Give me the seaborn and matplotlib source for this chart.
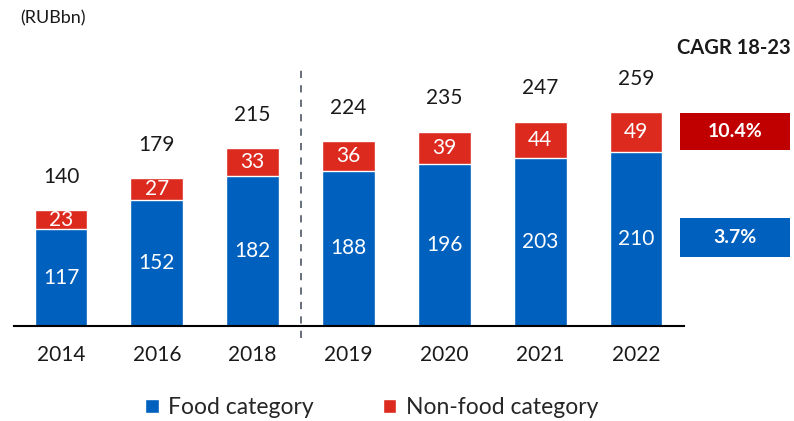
import matplotlib
matplotlib.use("Agg")
import matplotlib.pyplot as plt
import seaborn as sns
import pandas as pd
from matplotlib.patches import Rectangle

years = ["2014", "2016", "2018", "2019", "2020", "2021", "2022"]
food = [117, 152, 182, 188, 196, 203, 210]
nonfood = [23, 27, 33, 36, 39, 44, 49]
totals = [f + n for f, n in zip(food, nonfood)]
cagr_labels = ["10.4%", "3.7%"]
unit_label = "(RUBbn)"
cagr_title = "CAGR 18-23"
legend_labels = ["Food category", "Non-food category"]

BLUE = "#0060BE"
RED = "#DC2A1F"
DARKRED = "#C00000"

sns.set_theme(style="white")
plt.rcParams["font.family"] = ["Lato", "DejaVu Sans"]

df = pd.DataFrame({"year": years, "food": food, "nonfood": nonfood, "total": totals})

fig = plt.figure(figsize=(7.94, 4.21), dpi=100)
ax = fig.add_axes([14 / 794, 95 / 421, 670 / 794, 286 / 421])

sns.barplot(data=df, x="year", y="total", color=RED, width=0.55, saturation=1, ax=ax)
sns.barplot(data=df, x="year", y="food", color=BLUE, width=0.55, saturation=1, ax=ax)

ax.set_xlim(-0.49, 6.5)
ax.set_ylim(0, 346)
ax.set_xlabel("")
ax.set_ylabel("")
ax.set_yticks([])
for s in ["left", "right", "top"]:
    ax.spines[s].set_visible(False)
ax.spines["bottom"].set_color("black")
ax.spines["bottom"].set_linewidth(1.5)
ax.tick_params(axis="x", length=0, pad=14, labelsize=15, colors="#1a1a1a")

for i, (f, n, t) in enumerate(zip(food, nonfood, totals)):
    ax.text(i, f / 2, str(f), ha="center", va="center", color="white", fontsize=15)
    ax.text(i, f + n / 2, str(n), ha="center", va="center", color="white", fontsize=15)
    ax.annotate(str(t), (i, t), xytext=(0, 24), textcoords="offset points",
                ha="center", va="center", fontsize=15, color="#1a1a1a")

ax.plot([2.5, 2.5], [-15, 312], color="#5a6470", lw=1.3, ls=(0, (4, 4)), clip_on=False)

fig.text(20 / 794, 1 - 18 / 421, unit_label, fontsize=13, ha="left", va="center", color="#1a1a1a")
fig.text(734 / 794, 1 - 48 / 421, cagr_title, fontsize=14.5, fontweight="bold", ha="center", va="center", color="#1a1a1a")

boxes = [(113, 150, DARKRED), (218, 257, BLUE)]
for (ytop, ybot, col), lab in zip(boxes, cagr_labels):
    fig.add_artist(Rectangle((680 / 794, 1 - ybot / 421), 110 / 794, (ybot - ytop) / 421,
                             transform=fig.transFigure, facecolor=col, edgecolor="none"))
    fig.text(735 / 794, 1 - (ytop + ybot) / 2 / 421, lab, fontsize=14, fontweight="bold",
             color="white", ha="center", va="center")

handles = [Rectangle((0, 0), 1, 1, facecolor=BLUE), Rectangle((0, 0), 1, 1, facecolor=RED)]
fig.legend(handles, legend_labels, loc="center", bbox_to_anchor=(0.468, 0.032), ncol=2,
           frameon=False, fontsize=16.5, handlelength=0.6, handleheight=0.6,
           handletextpad=0.4, columnspacing=3.0, borderpad=0.1)

fig.savefig("out.png", dpi=100)
